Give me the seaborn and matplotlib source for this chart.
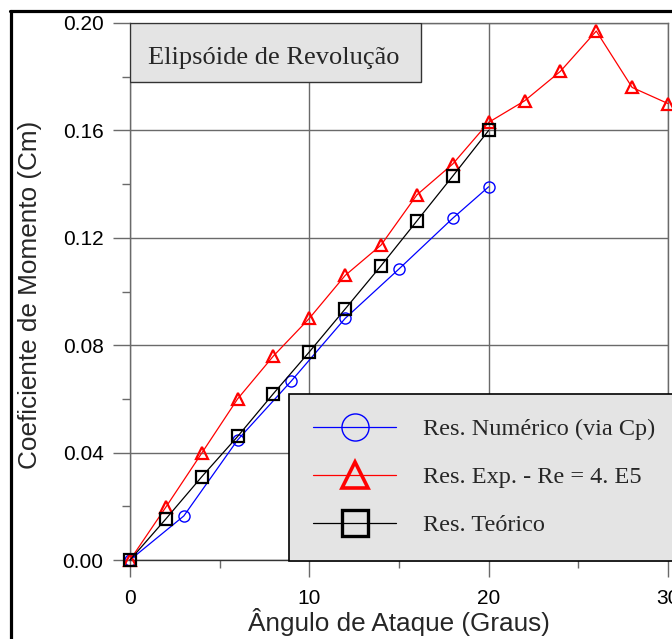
import matplotlib
matplotlib.use("Agg")
import matplotlib.pyplot as plt
from matplotlib.lines import Line2D
from matplotlib.patches import Rectangle
from matplotlib.ticker import MultipleLocator, FormatStrFormatter
import seaborn as sns
import pandas as pd

# ---- data ----
num_x = [0, 3, 6, 9, 12, 15, 18, 20]
num_y = [0.0, 0.0164, 0.0447, 0.0667, 0.0900, 0.1084, 0.1273, 0.1390]

exp_x = [0, 2, 4, 6, 8, 10, 12, 14, 16, 18, 20, 22, 24, 26, 28, 30]
exp_y = [0.0, 0.0197, 0.0398, 0.0600, 0.0760, 0.0900, 0.1060, 0.1173,
         0.1360, 0.1475, 0.1630, 0.1710, 0.1820, 0.1970, 0.1760, 0.1700]

teo_x = [0, 2, 4, 6, 8, 10, 12, 14, 16, 18, 20]
teo_y = [0.0, 0.0153, 0.0310, 0.0460, 0.0620, 0.0775, 0.0935, 0.1096,
         0.1263, 0.1430, 0.1600]

labels = ["Res. Numérico (via Cp)", "Res. Exp. - Re = 4. E5", "Res. Teórico"]
title_text = "Elipsóide de Revolução"
xlabel = "Ângulo de Ataque (Graus)"
ylabel = "Coeficiente de Momento (Cm)"
xticks = [0, 10, 20, 30]
yticks = [0.00, 0.04, 0.08, 0.12, 0.16, 0.20]

sns.set_theme(style="white")
plt.rcParams["font.family"] = ["Liberation Sans", "DejaVu Sans"]

W, H = 672, 639
fig = plt.figure(figsize=(W / 100, H / 100), dpi=100)
L, R, T, B = 130, 668, 23, 560
ax = fig.add_axes([L / W, 1 - B / H, (R - L) / W, (B - T) / H])

gcol = "#6a6a6a"

series = [
    (num_x, num_y, "blue", "o", 8, 1.0),
    (exp_x, exp_y, "red", "^", 8, 1.6),
    (teo_x, teo_y, "black", "s", 8, 1.6),
]
for xs, ys, c, m, ms, mew in series:
    df = pd.DataFrame({"x": xs, "y": ys})
    sns.lineplot(data=df, x="x", y="y", ax=ax, color=c, lw=0.9,
                 marker=m, ms=ms, mfc="none", mec=c, mew=mew,
                 legend=False, estimator=None, sort=False, clip_on=False,
                 zorder=4)

ax.set_xlim(0, 30)
ax.set_ylim(0, 0.20)
ax.set_xticks(xticks)
ax.set_yticks(yticks)
ax.xaxis.set_minor_locator(MultipleLocator(5))
ax.yaxis.set_minor_locator(MultipleLocator(0.02))
ax.yaxis.set_major_formatter(FormatStrFormatter("%.2f"))
ax.tick_params(axis="both", which="major", direction="out", length=12,
               width=1.0, color=gcol, labelsize=15, pad=7, labelcolor="black",
               bottom=True, left=True)
ax.tick_params(axis="x", which="major", pad=9)
ax.tick_params(axis="both", which="minor", direction="out", length=6,
               width=1.0, color=gcol, bottom=True, left=True)
ax.grid(True, which="major", color=gcol, lw=1.0, zorder=1)
ax.set_axisbelow(True)
for s in ax.spines.values():
    s.set_color(gcol)
    s.set_linewidth(1.0)
ax.spines["bottom"].set_color("#333333")

ax.set_xlabel(xlabel, fontsize=18.8)
ax.set_ylabel(ylabel, fontsize=18.8)
ax.xaxis.set_label_coords((399 - L) / (R - L), (B - 622) / (B - T))
ax.yaxis.set_label_coords((30 - L) / (R - L), (B - 295) / (B - T))
ax.xaxis.label.set_va("center")
ax.yaxis.label.set_va("center")

# title box
tb_x1 = (421 - L) / (R - L)
tb_y0 = (B - 82) / (B - T)
ax.add_patch(Rectangle((0, tb_y0), tb_x1, 1 - tb_y0, transform=ax.transAxes,
                       facecolor="#e4e4e4", edgecolor="#333333", lw=1.0,
                       zorder=6))
ax.text((148 - L) / (R - L), (B - 64) / (B - T), title_text,
        transform=ax.transAxes, fontsize=19, va="baseline", ha="left",
        family=["Liberation Serif", "DejaVu Serif"], zorder=7)

# legend
handles = [
    Line2D([], [], color="blue", lw=0.9, marker="o", ms=19.5, mfc="none",
           mec="blue", mew=1.0),
    Line2D([], [], color="red", lw=0.9, marker="^", ms=19, mfc="none",
           mec="red", mew=2.6),
    Line2D([], [], color="black", lw=0.9, marker="s", ms=19, mfc="none",
           mec="black", mew=2.4),
]
leg = ax.legend(handles, labels, loc="upper left",
                bbox_to_anchor=((289 - L) / (R - L), (B - 394) / (B - T)),
                borderaxespad=0, frameon=True, fancybox=False,
                framealpha=1, facecolor="#e4e4e4", edgecolor="black",
                prop={"family": "Liberation Serif", "size": 17.5},
                handlelength=3.4, handletextpad=1.1, labelspacing=1.07,
                borderpad=1.0, markerscale=1.0)
leg.get_frame().set_linewidth(1.2)
leg.set_zorder(8)

# outer frame lines (top and left)
fig.add_artist(Line2D([11 / W, 11 / W], [0, 1 - 10.5 / H],
                      transform=fig.transFigure, color="black", lw=2.3))
fig.add_artist(Line2D([10 / W, 1], [1 - 10.5 / H, 1 - 10.5 / H],
                      transform=fig.transFigure, color="black", lw=2.3))

fig.savefig("out.png", dpi=100)
